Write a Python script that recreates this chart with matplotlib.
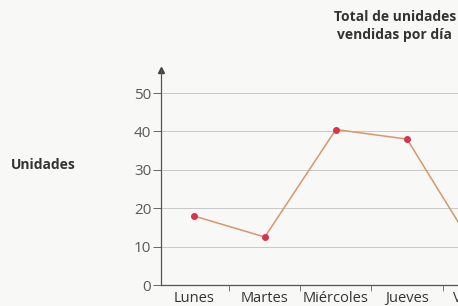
import matplotlib.pyplot as plt

dias = ['Lunes', 'Martes', 'Miércoles', 'Jueves', 'Viernes']
unidades = [18, 12.5, 40.5, 38, 8]
yticks = [0, 10, 20, 30, 40, 50]

plt.rcParams['font.family'] = ['Open Sans', 'DejaVu Sans']

fig = plt.figure(figsize=(4.58, 3.06), dpi=100)
fig.patch.set_facecolor('#f8f8f7')
# the chart runs past the right edge of the picture
ax = fig.add_axes([0.3515, 0.0686, 0.77, 0.7026])
ax.set_facecolor('none')

x = list(range(len(dias)))
ax.plot(x, unidades, color='#d9966a', lw=1.1, zorder=3)
ax.plot(x, unidades, 'o', color='#d8334f', ms=4, zorder=4)

ax.set_xlim(-0.46, 4.5)
ax.set_ylim(0, 56)
ax.set_yticks(yticks)
ax.set_yticklabels([str(v) for v in yticks], color='#5a5a5a', fontsize=11)
ax.tick_params(axis='y', length=6, width=0.7, color='#666666', pad=1)
for v in yticks[1:]:
    ax.axhline(v, color='#c8c8c8', lw=0.7, zorder=1)

ax.set_xticks(x)
ax.set_xticklabels(dias, color='#333333', fontsize=10.5)
ax.tick_params(axis='x', length=0, pad=4)
ax.set_xticks([i + 0.5 for i in x[:-1]], minor=True)
ax.tick_params(axis='x', which='minor', length=4, width=0.7, color='#777777')

for s in ['top', 'right']:
    ax.spines[s].set_visible(False)
ax.spines['left'].set_color('#555555')
ax.spines['bottom'].set_color('#555555')
ax.spines['left'].set_linewidth(0.9)
ax.spines['bottom'].set_linewidth(0.9)
ax.plot(-0.46, 56, '^', color='#444444', ms=4, clip_on=False, transform=ax.transData)

fig.text(0.024, 0.46, 'Unidades', fontsize=10, fontweight='bold', color='#333333', va='center')
fig.text(0.862, 0.915, 'Total de unidades\nvendidas por día', fontsize=10,
         fontweight='bold', color='#333333', ha='center', va='center', linespacing=1.3)

fig.savefig('out.png', dpi=100, facecolor=fig.get_facecolor())
